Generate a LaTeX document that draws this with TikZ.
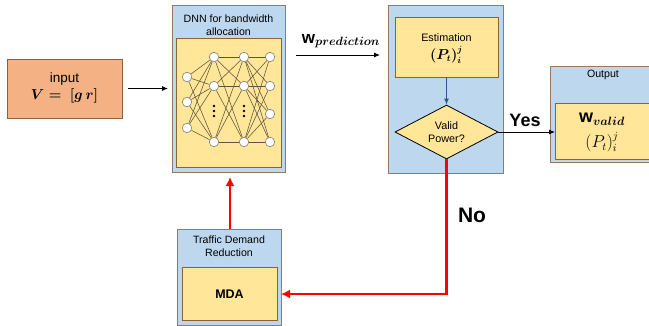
\documentclass[tikz,border=0pt]{standalone}
\usepackage{fontspec}
\setmainfont{Liberation Sans}
\usepackage{amsmath}
\usetikzlibrary{shapes.geometric,arrows.meta}
\definecolor{boxblue}{RGB}{189,215,238}
\definecolor{boxbrd}{RGB}{150,120,105}
\definecolor{boxyel}{RGB}{255,230,153}
\definecolor{yelbrd}{RGB}{140,100,50}
\definecolor{boxora}{RGB}{244,177,131}
\definecolor{orabrd}{RGB}{150,90,60}
\definecolor{netline}{RGB}{90,85,60}
\definecolor{arrblue}{RGB}{47,85,151}
\definecolor{redline}{RGB}{255,0,0}
\begin{document}
\begin{tikzpicture}[x=1pt,y=-1pt,
  container/.style={draw=boxbrd, fill=boxblue, line width=1pt, inner sep=0pt, outer sep=0pt, anchor=north west},
  yelbox/.style={draw=yelbrd, fill=boxyel, line width=1pt, inner sep=0pt, outer sep=0pt, anchor=north west, align=center},
  titletext/.style={align=center, inner sep=0pt, font=\fontsize{10.6}{12.6}\selectfont},
  neuron/.style={circle, draw=gray, fill=white, line width=0.6pt, minimum size=9.5pt, inner sep=0pt},
  netedge/.style={draw=netline, line width=0.55pt},
  blackarrow/.style={-{Latex[length=6pt,width=5pt]}, line width=0.9pt, black},
  redarrow/.style={-{Latex[length=9pt,width=9pt]}, line width=2.6pt, redline},
  bigbold/.style={font=\bfseries\fontsize{18}{20}\selectfont, inner sep=0pt},
]
\useasboundingbox (0,0) rectangle (649,325);
\clip (0,0) rectangle (649,325);

% input
\node[draw=orabrd, fill=boxora, line width=1pt, inner sep=0pt, outer sep=0pt, anchor=north west,
      minimum width=115pt, minimum height=59pt] (input) at (7,59) {};
\node[align=center, inner sep=0pt, font=\fontsize{13.5}{16}\selectfont] (inputtxt) at (64.5,88)
  {input\\[1pt] $\boldsymbol{V=\ [g\,r]}$};

% DNN block
\node[container, minimum width=113pt, minimum height=167pt] (dnn) at (172,5) {};
\node[titletext] (dnnt) at (228.5,25) {DNN for bandwidth\\allocation};
\node[yelbox, minimum width=105pt, minimum height=129pt] (dnnin) at (176,38) {};

% neural net
\foreach \i/\y in {1/77,2/102,3/128} \node[neuron] (a\i) at (187,\y) {};
\foreach \i/\y in {1/57,2/86,3/142} \node[neuron] (b\i) at (214,\y) {};
\foreach \i/\y in {1/57,2/86,3/142} \node[neuron] (c\i) at (244,\y) {};
\foreach \i/\y in {1/57,2/86,3/114,4/142} \node[neuron] (d\i) at (270,\y) {};
\foreach \i in {1,2,3} \foreach \j in {1,2,3} \draw[netedge] (a\i) -- (b\j);
\foreach \i in {1,2,3} \foreach \j in {1,2,3} \draw[netedge] (b\i) -- (c\j);
\foreach \i in {1,2,3} \foreach \j in {1,2,3,4} \draw[netedge] (c\i) -- (d\j);
\foreach \x in {214,244} \foreach \y in {106,111,116} \fill[black] (\x,\y) circle (1.3pt);

% input -> DNN
\draw[blackarrow, shorten <=6pt, shorten >=4pt] (input.east) -- (input.east -| dnn.west);

% Estimation block
\node[container, minimum width=115pt, minimum height=168pt] (est) at (388,5) {};
\node[yelbox, minimum width=103pt, minimum height=60pt] (estin) at (395,17) {};
\node[inner sep=0pt, font=\fontsize{10.8}{13}\selectfont] (esttxt) at (446.5,38) {Estimation};
\node[inner sep=0pt, font=\fontsize{13.5}{15}\selectfont] (estf) at (446.5,55) {$\boldsymbol{(P_t)_i^j}$};
\node[diamond, draw=black, fill=boxyel, line width=0.8pt, aspect=1.9, minimum width=103pt,
      minimum height=54pt, inner sep=0pt, align=center, font=\fontsize{10.8}{13}\selectfont] (valid) at (446.5,132)
  {Valid\\Power?};
\draw[-{Latex[length=6pt,width=5pt]}, line width=0.9pt, arrblue] (estin.south) -- (valid.north);

% DNN -> estimation
\draw[blackarrow, shorten <=11pt, shorten >=8pt] (dnn.east |- 0,55) -- (est.west |- 0,55);
\node[inner sep=0pt, font=\fontsize{17}{19}\selectfont] (wpred) at (341,41) {$\mathbf{w}_{\boldsymbol{prediction}}$};

% Output block
\node[container, minimum width=104pt, minimum height=96pt] (out) at (550,66) {};
\node[titletext] (outt) at (603,75) {Output};
\node[yelbox, minimum width=98pt, minimum height=56pt] (outin) at (555,103) {};
\node[inner sep=0pt, font=\fontsize{18}{20}\selectfont] (outw) at (602,119) {$\mathbf{w}_{\boldsymbol{valid}}$};
\node[inner sep=0pt, font=\fontsize{16}{18}\selectfont] (outp) at (602,142) {$(P_t)_i^j$};

% Yes
\draw[blackarrow] (valid.east) -- (valid.east -| outin.west);
\node[bigbold] (yes) at (525,120) {Yes};

% Traffic demand reduction
\node[container, minimum width=104pt, minimum height=96pt] (tdr) at (177,229) {};
\node[titletext] (tdrt) at (229,246) {Traffic Demand\\Reduction};
\node[yelbox, minimum width=95pt, minimum height=53pt] (mda) at (182,267) {};
\node[inner sep=0pt, font=\bfseries\fontsize{12.5}{14}\selectfont] (mdatxt) at (229.5,294) {MDA};

% No
\coordinate (corner) at (446.5,294);
\draw[redarrow, line join=miter] (valid.south) -- (corner) -- ([xshift=4pt]corner -| mda.east);
\node[bigbold, font=\bfseries\fontsize{21}{23}\selectfont] (no) at (472,215) {No};

% Traffic demand -> DNN
\draw[redarrow, shorten >=5pt] (tdr.north -| 230,0) -- (dnn.south -| 230,0);

\end{tikzpicture}
\end{document}
